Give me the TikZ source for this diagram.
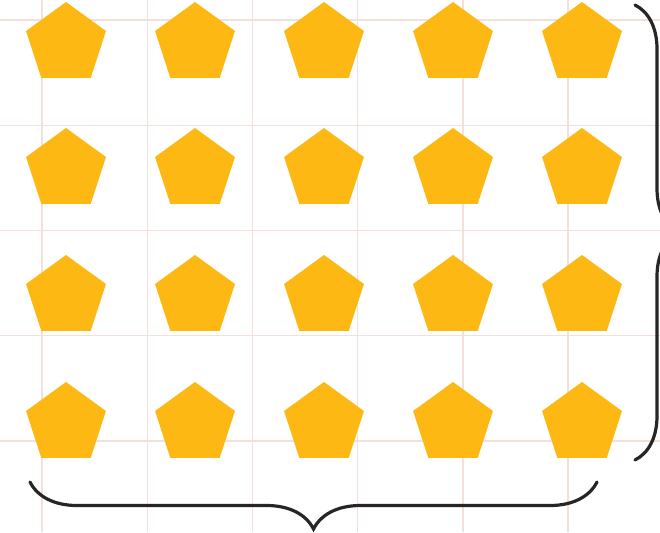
\documentclass[tikz,border=0pt]{standalone}
\usetikzlibrary{shapes.geometric,decorations.pathreplacing}
\definecolor{penta}{HTML}{FDB813}
\definecolor{gridc}{RGB}{243,224,218}
\begin{document}
\begin{tikzpicture}[x=1pt,y=1pt,
  pent/.style={regular polygon,regular polygon sides=5,minimum size=84pt,inner sep=0pt,outer sep=0pt,fill=penta,draw=none},
  gridline/.style={draw=gridc,line width=1.4pt},
  bracestyle/.style={decorate,decoration={brace,amplitude=#1},line width=3.2pt,draw=black!85,line cap=round}]
\useasboundingbox (0,0) rectangle (660,532);
\fill[white] (0,0) rectangle (660,532);
\foreach \i in {0,...,5} \draw[gridline] ({42+105.2*\i},0) -- ({42+105.2*\i},532);
\foreach \j in {0,...,4} \draw[gridline] (0,{512-105.25*\j}) -- (660,{512-105.25*\j});
\foreach \r/\y in {1/44,2/170,3/297,4/424}
  \foreach \c/\x in {1/66,2/195,3/324,4/453,5/582}
    \node[pent] (p\r\c) at (\x,532-\y) {};
\coordinate (rbtop) at (635,527);
\coordinate (rbbot) at (635,72);
\draw[bracestyle=44] (rbtop) -- (rbbot);
\coordinate (bbright) at (597,50);
\coordinate (bbleft) at (30,50);
\draw[bracestyle=47] (bbright) -- (bbleft);
\end{tikzpicture}
\end{document}
